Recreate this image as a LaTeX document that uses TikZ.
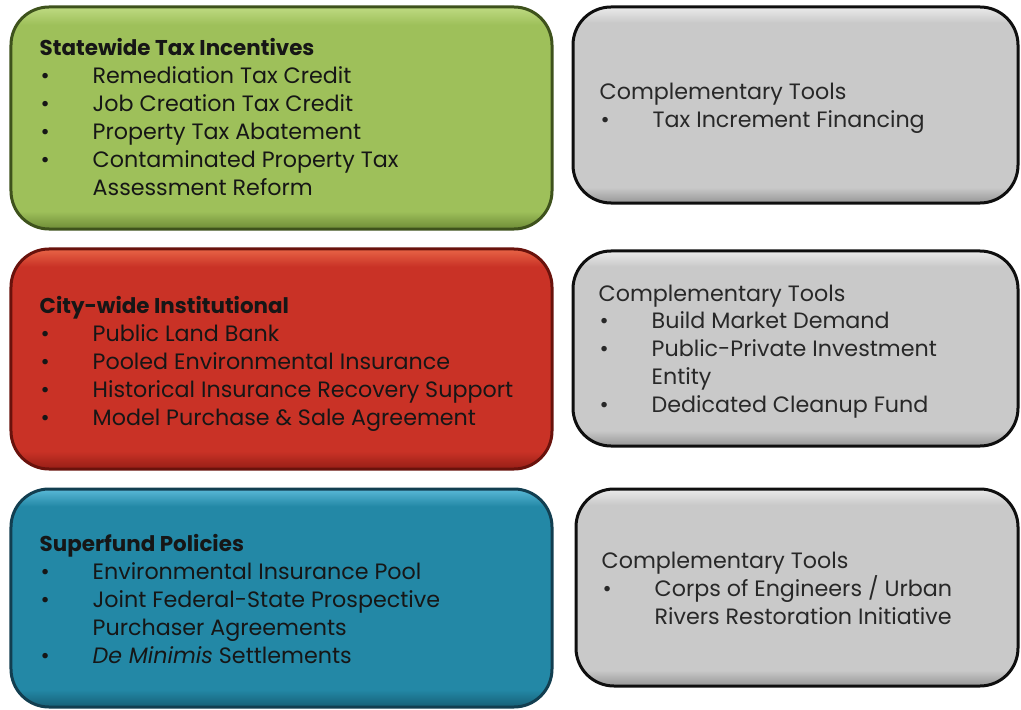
\documentclass[tikz,border=0pt]{standalone}
\usepackage{fontspec}
\setmainfont{Poppins}
\usetikzlibrary{shapes.misc}
\definecolor{gmain}{RGB}{158,192,90}
\definecolor{glt}{RGB}{190,218,130}
\definecolor{gdk}{RGB}{110,140,55}
\definecolor{gedge}{RGB}{62,82,28}
\definecolor{rmain}{RGB}{201,50,38}
\definecolor{rlt}{RGB}{232,100,70}
\definecolor{rdk}{RGB}{150,30,22}
\definecolor{redge}{RGB}{105,18,12}
\definecolor{bmain}{RGB}{35,136,166}
\definecolor{blt}{RGB}{90,185,215}
\definecolor{bdk}{RGB}{22,95,118}
\definecolor{bedge}{RGB}{18,62,80}
\definecolor{ymain}{RGB}{201,201,201}
\definecolor{ylt}{RGB}{235,235,235}
\definecolor{ydk}{RGB}{150,150,150}
\definecolor{yedge}{RGB}{15,15,15}
\definecolor{txt}{RGB}{22,22,22}
\definecolor{txtg}{RGB}{40,40,40}
\pgfdeclareverticalshading{glossG}{100bp}{color(0bp)=(gdk); color(25bp)=(gdk); color(29bp)=(gmain); color(71bp)=(gmain); color(75bp)=(glt); color(100bp)=(glt)}
\pgfdeclareverticalshading{glossR}{100bp}{color(0bp)=(rdk); color(25bp)=(rdk); color(29bp)=(rmain); color(71bp)=(rmain); color(75bp)=(rlt); color(100bp)=(rlt)}
\pgfdeclareverticalshading{glossB}{100bp}{color(0bp)=(bdk); color(25bp)=(bdk); color(29bp)=(bmain); color(71bp)=(bmain); color(75bp)=(blt); color(100bp)=(blt)}
\pgfdeclareverticalshading{glossY}{100bp}{color(0bp)=(ydk); color(25bp)=(ydk); color(29bp)=(ymain); color(71bp)=(ymain); color(75bp)=(ylt); color(100bp)=(ylt)}
\newcommand\bul{\makebox[53bp][l]{\hspace{1bp}•}}
\newcommand\cont{\hspace*{53bp}}
\newcommand\hd[1]{{\fontsize{21.5}{28}\selectfont\bfseries #1}}
\tikzset{
  box/.style={rectangle, rounded corners=38bp, line width=3bp},
  greenbox/.style={box, shading=glossG, draw=gedge},
  redbox/.style={box, shading=glossR, draw=redge},
  bluebox/.style={box, shading=glossB, draw=bedge},
  graybox/.style={box, shading=glossY, draw=yedge},
  body/.style={anchor=west, align=left, inner sep=0pt,
    font=\fontsize{22.3}{28}\selectfont},
  lefttext/.style={body, text=txt},
  righttext/.style={body, text=txtg},
}
\begin{document}
\begin{tikzpicture}[x=1bp,y=-1bp]
\useasboundingbox (0,0) rectangle (1021,710);
\node[greenbox, minimum width=541bp, minimum height=222bp] (g) at (281.5,118) {};
\node[redbox, minimum width=541bp, minimum height=220bp] (r) at (281.5,359) {};
\node[bluebox, minimum width=541bp, minimum height=218bp] (b) at (281.5,598) {};
\node[graybox, minimum width=445bp, minimum height=196bp] (c1) at (795.5,105) {};
\node[graybox, minimum width=445bp, minimum height=195bp] (c2) at (795.5,348.5) {};
\node[graybox, minimum width=442bp, minimum height=197bp] (c3) at (797,587.5) {};
\node[lefttext] (gt) at ([xshift=30bp,yshift=1bp]g.west)
 {\hd{Statewide Tax Incentives}\\
  \bul Remediation Tax Credit\\
  \bul Job Creation Tax Credit\\
  \bul Property Tax Abatement\\
  \bul Contaminated Property Tax\\
  \cont Assessment Reform};
\node[lefttext] (rt) at ([xshift=30bp,yshift=-5bp]r.west)
 {\hd{City-wide Institutional}\\
  \bul Public Land Bank\\
  \bul Pooled Environmental Insurance\\
  \bul Historical Insurance Recovery Support\\
  \bul Model Purchase \& Sale Agreement};
\node[lefttext] (bt) at ([xshift=30bp,yshift=-1bp]b.west)
 {\hd{Superfund Policies}\\
  \bul Environmental Insurance Pool\\
  \bul Joint Federal-State Prospective\\
  \cont Purchaser Agreements\\
  \bul \textit{De Minimis} Settlements};
\node[righttext] (c1t) at ([xshift=28bp,yshift=-3bp]c1.west)
 {Complementary Tools\\
  \bul Tax Increment Financing};
\node[righttext] (c2t) at ([xshift=27bp,yshift=-3bp]c2.west)
 {Complementary Tools\\
  \bul Build Market Demand\\
  \bul Public-Private Investment\\
  \cont Entity\\
  \bul Dedicated Cleanup Fund};
\node[righttext] (c3t) at ([xshift=27bp,yshift=-1bp]c3.west)
 {Complementary Tools\\
  \bul Corps of Engineers / Urban\\
  \cont Rivers Restoration Initiative};
\end{tikzpicture}
\end{document}
